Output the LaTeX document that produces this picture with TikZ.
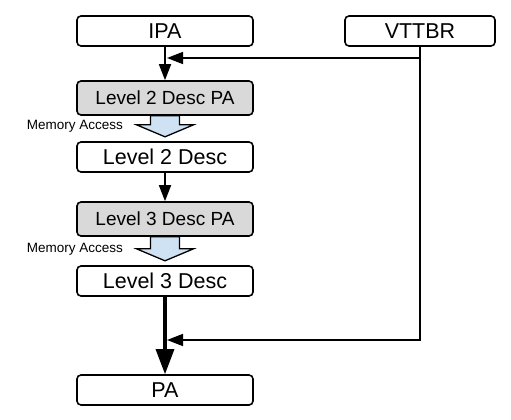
\documentclass[tikz,border=0pt]{standalone}
\usepackage{fontspec}
\setmainfont{Liberation Sans}
\usetikzlibrary{arrows.meta}
\definecolor{descgray}{RGB}{217,217,217}
\definecolor{memblue}{RGB}{207,226,243}
\begin{document}
\begin{tikzpicture}[x=1pt, y=-1pt,
    addr/.style={draw=black, fill=white, line width=1.6pt, rounded corners=4pt,
                  minimum width=176pt, minimum height=30pt, inner sep=0pt,
                  font=\fontsize{21.5}{24}\selectfont},
    descpa/.style={addr, fill=descgray, minimum height=34pt,
                  font=\fontsize{19}{22}\selectfont},
    memlabel/.style={anchor=east, inner sep=0pt, font=\fontsize{13.5}{15}\selectfont},
    memarrow/.style={draw=black, fill=memblue, line width=1.3pt, line join=miter},
    flow/.style={-{Triangle[length=16pt,width=12pt]}, line width=1.6pt, draw=black},
    bigflow/.style={-{Triangle[length=25pt,width=18pt]}, line width=3.2pt, draw=black}]
  \useasboundingbox (0,0) rectangle (511,420);

  % ---- the address and the base register
  \node[addr] (ipa) at (165,31) {IPA};
  \node[addr, minimum width=150pt] (vttbr) at (420,31) {VTTBR};

  % ---- the walk: level 2, then level 3
  \node[descpa] (l2pa) at (165,98)  {Level 2 Desc PA};
  \node[addr]   (l2d)  at (165,157) {Level 2 Desc};
  \node[descpa] (l3pa) at (165,219) {Level 3 Desc PA};
  \node[addr]   (l3d)  at (165,281) {Level 3 Desc};
  \node[addr]   (pa)   at (165,390) {PA};

  % ---- memory accesses (block arrows)
  \draw[memarrow] ([xshift=-14.5pt]l2pa.south) -- ++(0,9) -- ++(-14,0)
    -- ++(28.5,12) -- ++(28.5,-12) -- ++(-14,0) -- ++(0,-9) -- cycle;
  \node[memlabel] (mem1) at (123,126) {Memory Access};
  \draw[memarrow] ([xshift=-14.5pt]l3pa.south) -- ++(0,12) -- ++(-14,0)
    -- ++(28.5,12) -- ++(28.5,-12) -- ++(-14,0) -- ++(0,-12) -- cycle;
  \node[memlabel] (mem2) at (123,249) {Memory Access};

  % ---- the main chain
  \draw[flow] (ipa) -- (l2pa);
  \draw[flow] (l2d) -- (l3pa);
  \draw[bigflow] (l3d) -- (pa);

  % ---- VTTBR feeds both lookups
  \coordinate (j1) at (167,58);
  \coordinate (j2) at (167,340);
  \draw[flow] (vttbr.south) |- (j1);
  \draw[flow] (vttbr.south) |- (j2);
\end{tikzpicture}
\end{document}
